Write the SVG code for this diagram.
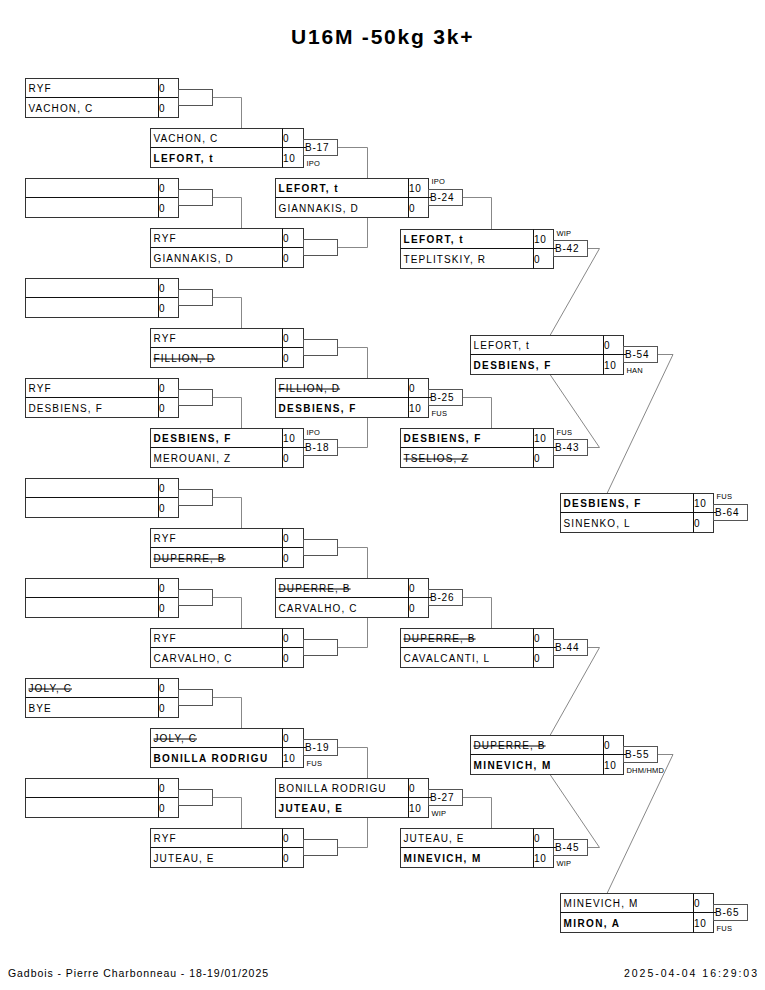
<svg xmlns="http://www.w3.org/2000/svg" width="765" height="990" viewBox="0 0 765 990">
<style>
.bg{fill:#fff}
.bx{fill:#fff;stroke:#333;stroke-width:1}
.ln{stroke:#111;stroke-width:1}
.cn{fill:none;stroke:#888;stroke-width:1}
.br{fill:#fff;stroke:#555;stroke-width:1}
text{font-family:"Liberation Sans",Arial,sans-serif;fill:#000}
.n{font-size:10px;letter-spacing:1.1px}
.b{font-weight:bold;letter-spacing:1.4px}
.s{text-decoration:line-through}
.sc{font-size:10px;letter-spacing:0.8px}
.lb{font-size:10px;letter-spacing:0.8px}
.nt{font-size:7.5px;letter-spacing:0.2px}
.ti{font-size:21px;font-weight:bold;letter-spacing:1.8px}
.ft{font-size:10.5px}
</style>
<rect class="bg" x="0" y="0" width="765" height="990"/>
<text class="ti" x="291" y="44">U16M -50kg 3k+</text>

<g id="connectors">
<path class="cn" d="M212.5 97.5H241.5V128.5M212.5 197.5H241.5V228.5M212.5 297.5H241.5V328.5M212.5 397.5H241.5V428.5M212.5 497.5H241.5V528.5M212.5 597.5H241.5V628.5M212.5 697.5H241.5V728.5M212.5 797.5H241.5V828.5"/>
<path class="cn" d="M337.5 147.5H367.5V178.5M337.5 247.5H367.5V217.5M337.5 347.5H367.5V378.5M337.5 447.5H367.5V417.5M337.5 547.5H367.5V578.5M337.5 647.5H367.5V617.5M337.5 747.5H367.5V778.5M337.5 847.5H367.5V817.5"/>
<path class="cn" d="M462.5 197.5H491.5V229.5M462.5 397.5H491.5V428.5M462.5 597.5H491.5V628.5M462.5 797.5H491.5V828.5"/>
<path class="cn" d="M587.5 248.5H599.5L550 335.5M587.5 447.5H599.5L550 374.5M587.5 647.5H599.5L550 735.5M587.5 847.5H599.5L550 774.5"/>
<path class="cn" d="M657.5 354.5H673L607 493.5M657.5 754.5H673L607 893.5"/>
</g>

<!-- Round 1 -->
<g id="r1-1"><rect class="bx" x="25.5" y="78.5" width="153" height="39"/><line class="ln" x1="25.5" y1="97.5" x2="178.5" y2="97.5"/><line class="ln" x1="158.5" y1="78.5" x2="158.5" y2="117.5"/><text class="n" x="28.5" y="92">RYF</text><text class="n" x="28.5" y="112">VACHON, C</text><text class="sc" x="159" y="92">0</text><text class="sc" x="159" y="112">0</text><rect class="br" x="178.5" y="89.5" width="34" height="16"/></g>
<g id="r1-2"><rect class="bx" x="25.5" y="178.5" width="153" height="39"/><line class="ln" x1="25.5" y1="197.5" x2="178.5" y2="197.5"/><line class="ln" x1="158.5" y1="178.5" x2="158.5" y2="217.5"/><text class="sc" x="159" y="192">0</text><text class="sc" x="159" y="212">0</text><rect class="br" x="178.5" y="189.5" width="34" height="16"/></g>
<g id="r1-3"><rect class="bx" x="25.5" y="278.5" width="153" height="39"/><line class="ln" x1="25.5" y1="297.5" x2="178.5" y2="297.5"/><line class="ln" x1="158.5" y1="278.5" x2="158.5" y2="317.5"/><text class="sc" x="159" y="292">0</text><text class="sc" x="159" y="312">0</text><rect class="br" x="178.5" y="289.5" width="34" height="16"/></g>
<g id="r1-4"><rect class="bx" x="25.5" y="378.5" width="153" height="39"/><line class="ln" x1="25.5" y1="397.5" x2="178.5" y2="397.5"/><line class="ln" x1="158.5" y1="378.5" x2="158.5" y2="417.5"/><text class="n" x="28.5" y="392">RYF</text><text class="n" x="28.5" y="412">DESBIENS, F</text><text class="sc" x="159" y="392">0</text><text class="sc" x="159" y="412">0</text><rect class="br" x="178.5" y="389.5" width="34" height="16"/></g>
<g id="r1-5"><rect class="bx" x="25.5" y="478.5" width="153" height="39"/><line class="ln" x1="25.5" y1="497.5" x2="178.5" y2="497.5"/><line class="ln" x1="158.5" y1="478.5" x2="158.5" y2="517.5"/><text class="sc" x="159" y="492">0</text><text class="sc" x="159" y="512">0</text><rect class="br" x="178.5" y="489.5" width="34" height="16"/></g>
<g id="r1-6"><rect class="bx" x="25.5" y="578.5" width="153" height="39"/><line class="ln" x1="25.5" y1="597.5" x2="178.5" y2="597.5"/><line class="ln" x1="158.5" y1="578.5" x2="158.5" y2="617.5"/><text class="sc" x="159" y="592">0</text><text class="sc" x="159" y="612">0</text><rect class="br" x="178.5" y="589.5" width="34" height="16"/></g>
<g id="r1-7"><rect class="bx" x="25.5" y="678.5" width="153" height="39"/><line class="ln" x1="25.5" y1="697.5" x2="178.5" y2="697.5"/><line class="ln" x1="158.5" y1="678.5" x2="158.5" y2="717.5"/><text class="n s" x="28.5" y="692">JOLY, C</text><text class="n" x="28.5" y="712">BYE</text><text class="sc" x="159" y="692">0</text><text class="sc" x="159" y="712">0</text><rect class="br" x="178.5" y="689.5" width="34" height="16"/></g>
<g id="r1-8"><rect class="bx" x="25.5" y="778.5" width="153" height="39"/><line class="ln" x1="25.5" y1="797.5" x2="178.5" y2="797.5"/><line class="ln" x1="158.5" y1="778.5" x2="158.5" y2="817.5"/><text class="sc" x="159" y="792">0</text><text class="sc" x="159" y="812">0</text><rect class="br" x="178.5" y="789.5" width="34" height="16"/></g>

<!-- Round 2 -->
<g id="b17"><rect class="bx" x="150.5" y="128.5" width="153" height="39"/><rect class="br" x="303.5" y="139.5" width="34" height="16"/><line class="ln" x1="150.5" y1="147.5" x2="306" y2="147.5"/><line class="ln" x1="282.5" y1="128.5" x2="282.5" y2="167.5"/><text class="n" x="153.5" y="142">VACHON, C</text><text class="n b" x="153.5" y="162">LEFORT, t</text><text class="sc" x="283" y="142">0</text><text class="sc" x="283" y="162">10</text><text class="lb" x="305" y="151">B-17</text><text class="nt" x="306.5" y="166">IPO</text></g>
<g id="r2-2"><rect class="bx" x="150.5" y="228.5" width="153" height="39"/><line class="ln" x1="150.5" y1="247.5" x2="303.5" y2="247.5"/><line class="ln" x1="282.5" y1="228.5" x2="282.5" y2="267.5"/><text class="n" x="153.5" y="242">RYF</text><text class="n" x="153.5" y="262">GIANNAKIS, D</text><text class="sc" x="283" y="242">0</text><text class="sc" x="283" y="262">0</text><rect class="br" x="303.5" y="239.5" width="34" height="16"/></g>
<g id="r2-3"><rect class="bx" x="150.5" y="328.5" width="153" height="39"/><line class="ln" x1="150.5" y1="347.5" x2="303.5" y2="347.5"/><line class="ln" x1="282.5" y1="328.5" x2="282.5" y2="367.5"/><text class="n" x="153.5" y="342">RYF</text><text class="n s" x="153.5" y="362">FILLION, D</text><text class="sc" x="283" y="342">0</text><text class="sc" x="283" y="362">0</text><rect class="br" x="303.5" y="339.5" width="34" height="16"/></g>
<g id="b18"><rect class="bx" x="150.5" y="428.5" width="153" height="39"/><rect class="br" x="303.5" y="439.5" width="34" height="16"/><line class="ln" x1="150.5" y1="447.5" x2="306" y2="447.5"/><line class="ln" x1="282.5" y1="428.5" x2="282.5" y2="467.5"/><text class="n b" x="153.5" y="442">DESBIENS, F</text><text class="n" x="153.5" y="462">MEROUANI, Z</text><text class="sc" x="283" y="442">10</text><text class="sc" x="283" y="462">0</text><text class="lb" x="305" y="451">B-18</text><text class="nt" x="306.5" y="435">IPO</text></g>
<g id="r2-5"><rect class="bx" x="150.5" y="528.5" width="153" height="39"/><line class="ln" x1="150.5" y1="547.5" x2="303.5" y2="547.5"/><line class="ln" x1="282.5" y1="528.5" x2="282.5" y2="567.5"/><text class="n" x="153.5" y="542">RYF</text><text class="n s" x="153.5" y="562">DUPERRE, B</text><text class="sc" x="283" y="542">0</text><text class="sc" x="283" y="562">0</text><rect class="br" x="303.5" y="539.5" width="34" height="16"/></g>
<g id="r2-6"><rect class="bx" x="150.5" y="628.5" width="153" height="39"/><line class="ln" x1="150.5" y1="647.5" x2="303.5" y2="647.5"/><line class="ln" x1="282.5" y1="628.5" x2="282.5" y2="667.5"/><text class="n" x="153.5" y="642">RYF</text><text class="n" x="153.5" y="662">CARVALHO, C</text><text class="sc" x="283" y="642">0</text><text class="sc" x="283" y="662">0</text><rect class="br" x="303.5" y="639.5" width="34" height="16"/></g>
<g id="b19"><rect class="bx" x="150.5" y="728.5" width="153" height="39"/><rect class="br" x="303.5" y="739.5" width="34" height="16"/><line class="ln" x1="150.5" y1="747.5" x2="306" y2="747.5"/><line class="ln" x1="282.5" y1="728.5" x2="282.5" y2="767.5"/><text class="n s" x="153.5" y="742">JOLY, C</text><text class="n b" x="153.5" y="762">BONILLA RODRIGU</text><text class="sc" x="283" y="742">0</text><text class="sc" x="283" y="762">10</text><text class="lb" x="305" y="751">B-19</text><text class="nt" x="306.5" y="766">FUS</text></g>
<g id="r2-8"><rect class="bx" x="150.5" y="828.5" width="153" height="39"/><line class="ln" x1="150.5" y1="847.5" x2="303.5" y2="847.5"/><line class="ln" x1="282.5" y1="828.5" x2="282.5" y2="867.5"/><text class="n" x="153.5" y="842">RYF</text><text class="n" x="153.5" y="862">JUTEAU, E</text><text class="sc" x="283" y="842">0</text><text class="sc" x="283" y="862">0</text><rect class="br" x="303.5" y="839.5" width="34" height="16"/></g>

<!-- Round 3 -->
<g id="b24"><rect class="bx" x="275.5" y="178.5" width="153" height="39"/><rect class="br" x="428.5" y="189.5" width="34" height="16"/><line class="ln" x1="275.5" y1="197.5" x2="431" y2="197.5"/><line class="ln" x1="408.5" y1="178.5" x2="408.5" y2="217.5"/><text class="n b" x="278.5" y="192">LEFORT, t</text><text class="n" x="278.5" y="212">GIANNAKIS, D</text><text class="sc" x="409" y="192">10</text><text class="sc" x="409" y="212">0</text><text class="lb" x="430" y="201">B-24</text><text class="nt" x="431.5" y="184">IPO</text></g>
<g id="b25"><rect class="bx" x="275.5" y="378.5" width="153" height="39"/><rect class="br" x="428.5" y="389.5" width="34" height="16"/><line class="ln" x1="275.5" y1="397.5" x2="431" y2="397.5"/><line class="ln" x1="408.5" y1="378.5" x2="408.5" y2="417.5"/><text class="n s" x="278.5" y="392">FILLION, D</text><text class="n b" x="278.5" y="412">DESBIENS, F</text><text class="sc" x="409" y="392">0</text><text class="sc" x="409" y="412">10</text><text class="lb" x="430" y="401">B-25</text><text class="nt" x="431.5" y="416">FUS</text></g>
<g id="b26"><rect class="bx" x="275.5" y="578.5" width="153" height="39"/><rect class="br" x="428.5" y="589.5" width="34" height="16"/><line class="ln" x1="275.5" y1="597.5" x2="431" y2="597.5"/><line class="ln" x1="408.5" y1="578.5" x2="408.5" y2="617.5"/><text class="n s" x="278.5" y="592">DUPERRE, B</text><text class="n" x="278.5" y="612">CARVALHO, C</text><text class="sc" x="409" y="592">0</text><text class="sc" x="409" y="612">0</text><text class="lb" x="430" y="601">B-26</text></g>
<g id="b27"><rect class="bx" x="275.5" y="778.5" width="153" height="39"/><rect class="br" x="428.5" y="789.5" width="34" height="16"/><line class="ln" x1="275.5" y1="797.5" x2="431" y2="797.5"/><line class="ln" x1="408.5" y1="778.5" x2="408.5" y2="817.5"/><text class="n" x="278.5" y="792">BONILLA RODRIGU</text><text class="n b" x="278.5" y="812">JUTEAU, E</text><text class="sc" x="409" y="792">0</text><text class="sc" x="409" y="812">10</text><text class="lb" x="430" y="801">B-27</text><text class="nt" x="431.5" y="816">WIP</text></g>

<!-- Round 4 -->
<g id="b42"><rect class="bx" x="400.5" y="229.5" width="153" height="39"/><rect class="br" x="553.5" y="240.5" width="34" height="16"/><line class="ln" x1="400.5" y1="248.5" x2="556" y2="248.5"/><line class="ln" x1="533.5" y1="229.5" x2="533.5" y2="268.5"/><text class="n b" x="403.5" y="243">LEFORT, t</text><text class="n" x="403.5" y="263">TEPLITSKIY, R</text><text class="sc" x="534" y="243">10</text><text class="sc" x="534" y="263">0</text><text class="lb" x="555" y="252">B-42</text><text class="nt" x="556.5" y="236">WIP</text></g>
<g id="b43"><rect class="bx" x="400.5" y="428.5" width="153" height="39"/><rect class="br" x="553.5" y="439.5" width="34" height="16"/><line class="ln" x1="400.5" y1="447.5" x2="556" y2="447.5"/><line class="ln" x1="533.5" y1="428.5" x2="533.5" y2="467.5"/><text class="n b" x="403.5" y="442">DESBIENS, F</text><text class="n s" x="403.5" y="462">TSELIOS, Z</text><text class="sc" x="534" y="442">10</text><text class="sc" x="534" y="462">0</text><text class="lb" x="555" y="451">B-43</text><text class="nt" x="556.5" y="435">FUS</text></g>
<g id="b44"><rect class="bx" x="400.5" y="628.5" width="153" height="39"/><rect class="br" x="553.5" y="639.5" width="34" height="16"/><line class="ln" x1="400.5" y1="647.5" x2="556" y2="647.5"/><line class="ln" x1="533.5" y1="628.5" x2="533.5" y2="667.5"/><text class="n s" x="403.5" y="642">DUPERRE, B</text><text class="n" x="403.5" y="662">CAVALCANTI, L</text><text class="sc" x="534" y="642">0</text><text class="sc" x="534" y="662">0</text><text class="lb" x="555" y="651">B-44</text></g>
<g id="b45"><rect class="bx" x="400.5" y="828.5" width="153" height="39"/><rect class="br" x="553.5" y="839.5" width="34" height="16"/><line class="ln" x1="400.5" y1="847.5" x2="556" y2="847.5"/><line class="ln" x1="533.5" y1="828.5" x2="533.5" y2="867.5"/><text class="n" x="403.5" y="842">JUTEAU, E</text><text class="n b" x="403.5" y="862">MINEVICH, M</text><text class="sc" x="534" y="842">0</text><text class="sc" x="534" y="862">10</text><text class="lb" x="555" y="851">B-45</text><text class="nt" x="556.5" y="866">WIP</text></g>

<!-- Round 5 -->
<g id="b54"><rect class="bx" x="470.5" y="335.5" width="153" height="39"/><rect class="br" x="623.5" y="346.5" width="34" height="16"/><line class="ln" x1="470.5" y1="354.5" x2="626" y2="354.5"/><line class="ln" x1="603.5" y1="335.5" x2="603.5" y2="374.5"/><text class="n" x="473.5" y="349">LEFORT, t</text><text class="n b" x="473.5" y="369">DESBIENS, F</text><text class="sc" x="604" y="349">0</text><text class="sc" x="604" y="369">10</text><text class="lb" x="625" y="358">B-54</text><text class="nt" x="626.5" y="373">HAN</text></g>
<g id="b55"><rect class="bx" x="470.5" y="735.5" width="153" height="39"/><rect class="br" x="623.5" y="746.5" width="34" height="16"/><line class="ln" x1="470.5" y1="754.5" x2="626" y2="754.5"/><line class="ln" x1="603.5" y1="735.5" x2="603.5" y2="774.5"/><text class="n s" x="473.5" y="749">DUPERRE, B</text><text class="n b" x="473.5" y="769">MINEVICH, M</text><text class="sc" x="604" y="749">0</text><text class="sc" x="604" y="769">10</text><text class="lb" x="625" y="758">B-55</text><text class="nt" x="626.5" y="773">DHM/HMD</text></g>

<!-- Round 6 -->
<g id="b64"><rect class="bx" x="560.5" y="493.5" width="153" height="39"/><rect class="br" x="713.5" y="504.5" width="34" height="16"/><line class="ln" x1="560.5" y1="512.5" x2="716" y2="512.5"/><line class="ln" x1="693.5" y1="493.5" x2="693.5" y2="532.5"/><text class="n b" x="563.5" y="507">DESBIENS, F</text><text class="n" x="563.5" y="527">SINENKO, L</text><text class="sc" x="694" y="507">10</text><text class="sc" x="694" y="527">0</text><text class="lb" x="715" y="516">B-64</text><text class="nt" x="716.5" y="499">FUS</text></g>
<g id="b65"><rect class="bx" x="560.5" y="893.5" width="153" height="39"/><rect class="br" x="713.5" y="904.5" width="34" height="16"/><line class="ln" x1="560.5" y1="912.5" x2="716" y2="912.5"/><line class="ln" x1="693.5" y1="893.5" x2="693.5" y2="932.5"/><text class="n" x="563.5" y="907">MINEVICH, M</text><text class="n b" x="563.5" y="927">MIRON, A</text><text class="sc" x="694" y="907">0</text><text class="sc" x="694" y="927">10</text><text class="lb" x="715" y="916">B-65</text><text class="nt" x="716.5" y="931">FUS</text></g>

<text class="ft" x="8" y="977" textLength="260" lengthAdjust="spacing">Gadbois - Pierre Charbonneau - 18-19/01/2025</text>
<text class="ft" x="624" y="977" textLength="133" lengthAdjust="spacing">2025-04-04 16:29:03</text>
</svg>
